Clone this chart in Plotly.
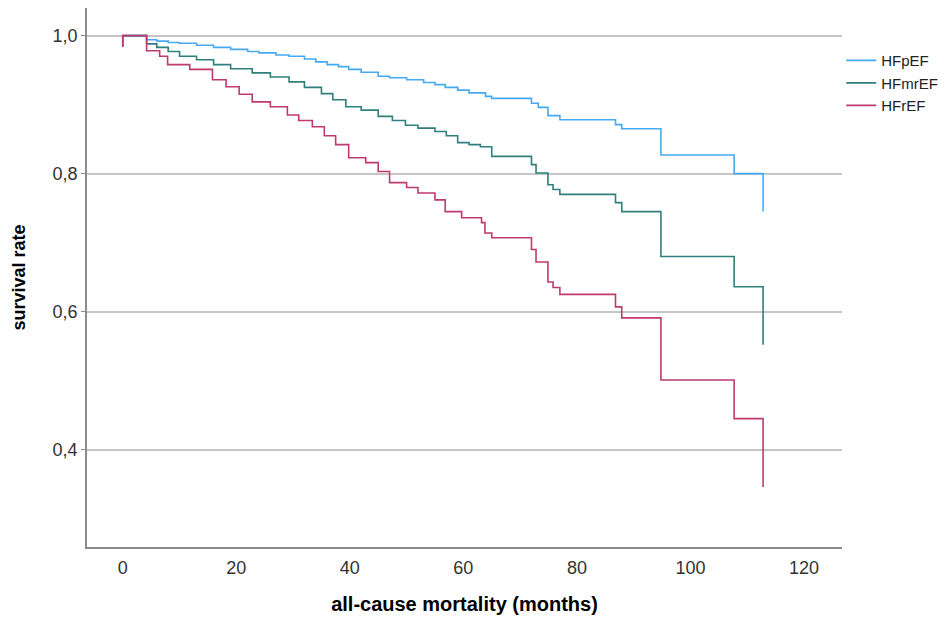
import plotly.graph_objects as go

series_names = ["HFpEF", "HFmrEF", "HFrEF"]
series_colors = ["#45aaf2", "#2f7f7c", "#bf3a6f"]

t_hfpef = [0, 0, 4.2, 6, 8, 10, 13, 16, 19, 22, 24, 27, 29.3, 32, 34, 36, 38, 39.8, 42, 45, 47, 50, 53, 55,
           56.8, 59, 61, 63.9, 65, 72, 73.2, 74.9, 77, 86.8, 87.9, 94.8, 107.7, 112.8]
s_hfpef = [0.984, 1.0, 0.994, 0.992, 0.990, 0.989, 0.986, 0.983, 0.980, 0.977, 0.975, 0.972, 0.970, 0.966,
           0.962, 0.958, 0.955, 0.951, 0.947, 0.941, 0.939, 0.936, 0.932, 0.929, 0.925, 0.921, 0.917, 0.912,
           0.909, 0.902, 0.896, 0.884, 0.878, 0.871, 0.865, 0.827, 0.800, 0.745]

t_hfmref = [0, 0, 4.2, 6, 8, 10, 13, 16, 19, 22.8, 26, 29.3, 32, 35, 37, 39.3, 42, 45, 47.5, 49.8, 52, 55, 57,
            59, 61, 63, 65, 72, 72.8, 74.9, 75.8, 77, 86.8, 87.9, 94.8, 107.7, 112.8]
s_hfmref = [0.984, 1.0, 0.988, 0.983, 0.977, 0.970, 0.965, 0.958, 0.952, 0.946, 0.940, 0.933, 0.925, 0.916,
            0.907, 0.897, 0.892, 0.883, 0.877, 0.870, 0.866, 0.861, 0.855, 0.845, 0.842, 0.839, 0.825, 0.813,
            0.801, 0.784, 0.777, 0.770, 0.758, 0.745, 0.680, 0.636, 0.552]

t_hfref = [0, 0, 4.2, 6.5, 7.9, 11.8, 15.8, 18.2, 20.5, 22.8, 26, 29, 31, 33.4, 35.5, 37.5, 39.8, 42.8, 45, 47,
           50, 52, 55, 56.8, 59.7, 63.2, 63.8, 65, 72, 72.8, 74.9, 75.8, 77, 86.8, 87.9, 94.8, 107.7, 112.8]
s_hfref = [0.984, 1.0, 0.978, 0.970, 0.958, 0.951, 0.936, 0.926, 0.915, 0.904, 0.897, 0.885, 0.877, 0.868,
           0.855, 0.842, 0.823, 0.816, 0.803, 0.787, 0.780, 0.772, 0.762, 0.745, 0.736, 0.729, 0.714, 0.707,
           0.690, 0.672, 0.643, 0.635, 0.625, 0.607, 0.591, 0.501, 0.445, 0.346]

x_ticks = [0, 20, 40, 60, 80, 100, 120]
y_ticks = [0.4, 0.6, 0.8, 1.0]

fig = go.Figure()
for name, color, t, s in zip(series_names, series_colors,
                             [t_hfpef, t_hfmref, t_hfref], [s_hfpef, s_hfmref, s_hfref]):
    fig.add_trace(go.Scatter(x=t, y=s, mode="lines", name=name,
                             line=dict(color=color, width=1.6, shape="hv")))

font_family = "Liberation Sans, Arial, sans-serif"
fig.update_layout(
    width=951, height=622,
    margin=dict(l=87, r=106, t=8, b=75),
    paper_bgcolor="white", plot_bgcolor="white",
    separators=",.",
    font=dict(family=font_family, size=15, color="#333333"),
    showlegend=True,
    legend=dict(x=0.999, y=0.933, xanchor="left", yanchor="top",
                font=dict(size=15, color="#222222"), bgcolor="rgba(0,0,0,0)",
                tracegroupgap=0, itemwidth=30),
    xaxis=dict(range=[-6.3, 126.7], tickvals=x_ticks, showgrid=False, zeroline=False,
               showline=True, linecolor="#8c8c8c", linewidth=1.5,
               ticks="outside", ticklen=4, tickcolor="rgba(0,0,0,0)",
               tickfont=dict(size=18, color="#333333"),
               title=dict(text="<b>all-cause mortality (months)</b>", standoff=20,
                          font=dict(size=20, color="#000000"))),
    yaxis=dict(range=[0.259, 1.04], tickvals=y_ticks, tickformat=".1f",
               showgrid=True, gridcolor="#c6c6c6", gridwidth=1.5, zeroline=False,
               showline=True, linecolor="#8c8c8c", linewidth=1.5,
               ticks="outside", ticklen=4, tickcolor="#8c8c8c",
               tickfont=dict(size=18, color="#333333"),
               title=dict(text="<b>survival rate</b>", standoff=22,
                          font=dict(size=18, color="#000000"))),
)

fig.write_html("out.html")
